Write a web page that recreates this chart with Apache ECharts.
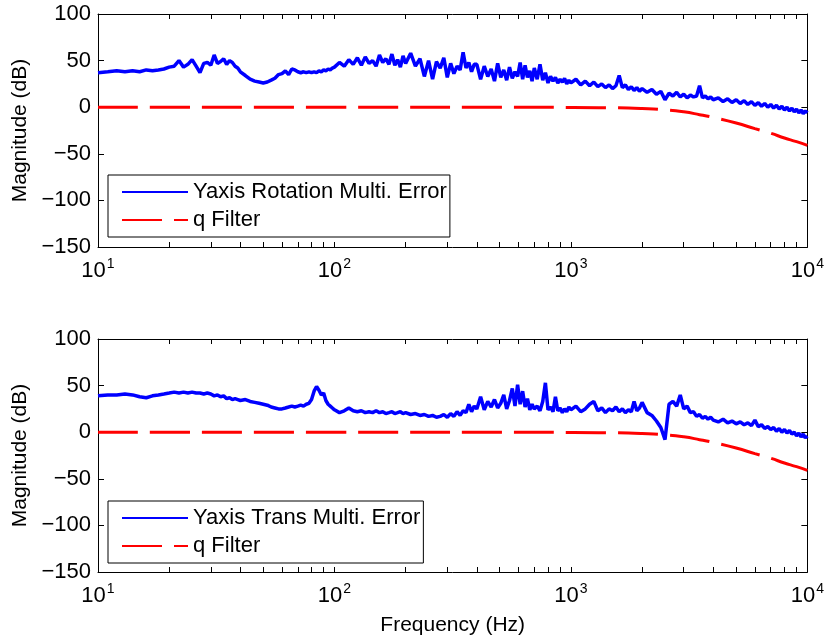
<!DOCTYPE html>
<html>
<head>
<meta charset="utf-8">
<script src="https://cdn.jsdelivr.net/npm/echarts@6.0.0/dist/echarts.min.js"></script>
<style>
  html, body { margin: 0; padding: 0; background: #fff; }
  #main { width: 827px; height: 642px; }
</style>
</head>
<body>
<div id="main"></div>
<script>
// frequency grid shared by both measured curves (Hz)
const freq = [
  10, 11, 12, 13, 14, 15, 16, 17, 18, 19,
  20, 21, 22, 23, 24, 25, 26, 27, 28, 29,
  30, 31, 32, 33, 34, 35, 36, 37, 38, 39,
  40, 42, 44, 46, 48, 50, 52, 54, 56, 58,
  60, 62, 64, 66, 68, 70, 72, 74, 76, 78,
  80, 82, 84, 86, 88, 90, 92, 94, 96, 98,
  100, 105, 110, 115, 120, 125, 130, 135, 140, 145, 150, 155, 160, 165, 170, 175, 180, 185, 190, 195,
  200, 210, 220, 230, 240, 250, 260, 270, 280, 290, 300, 310, 320, 330, 340, 350, 360, 370, 380, 390,
  400, 415, 430, 445, 460, 475, 490, 505, 520, 535, 550, 565, 580, 595, 610, 625, 640, 655, 670, 685,
  700, 720, 740, 760, 780, 800, 820, 840, 860, 880, 900, 920, 940, 960, 980,
  1000, 1050, 1100, 1150, 1200, 1250, 1300, 1350, 1400, 1450, 1500, 1550, 1600, 1650, 1700, 1750, 1800, 1850, 1900, 1950,
  2000, 2100, 2200, 2300, 2400, 2500, 2600, 2700, 2800, 2900, 3000, 3100, 3200, 3300, 3400, 3500, 3600, 3700, 3800, 3900,
  4000, 4200, 4400, 4600, 4800, 5000, 5200, 5400, 5600, 5800, 6000, 6200, 6400, 6600, 6800, 7000, 7200, 7400, 7600, 7800,
  8000, 8200, 8400, 8600, 8800, 9000, 9200, 9400, 9600, 9800, 10000
];

// Yaxis Rotation Multi. Error (dB)
const magRot = [
  37, 38, 39, 38, 39, 38, 40, 39, 40, 41,
  43, 44, 50, 43, 46, 51, 44, 37, 47, 48,
  45, 56, 47, 49, 52, 46, 50, 48, 44, 42,
  38, 34, 30, 28, 27, 26, 27, 29, 31, 35,
  36, 39, 35, 41, 40, 38, 37, 38, 37, 38,
  37, 38, 37, 39, 38, 40, 39, 41, 40, 42,
  43, 48, 44, 51, 46, 53, 45, 54, 47, 50, 44, 56, 48, 52, 46, 57, 45, 51, 43, 55,
  47, 58, 44, 52, 33, 50, 30, 49, 42, 53, 32, 47, 36, 44, 40, 59, 42, 48, 38, 46,
  46, 30, 44, 33, 41, 28, 47, 32, 40, 29, 43, 31, 38, 33, 48, 30, 45, 32, 39, 28,
  42, 30, 46, 29, 37, 26, 33, 28, 32, 26, 30, 27, 31, 25, 29,
  26, 30, 24, 28, 23, 27, 22, 25, 21, 24, 20, 23, 34, 21, 24, 19, 22, 18, 21, 17,
  20, 16, 19, 14, 17, 8, 15, 12, 16, 11, 14, 10, 13, 11, 12, 23, 10, 12, 9, 11,
  8, 10, 6, 9, 5, 8, 4, 7, 3, 6, 2, 5, 1, 4, 0, 3, -1, 2, -2, 1,
  -3, 0, -4, -1, -5, -2, -6, -3, -7, -4, -6
];

// Yaxis Trans Multi. Error (dB)
const magTrans = [
  39, 40, 40, 41, 40, 38, 37, 39, 40, 41,
  42, 43, 42, 43, 42, 43, 42, 42, 41, 42,
  41, 39, 40, 38, 39, 36, 37, 35, 36, 35,
  34, 35, 33, 32, 31, 30, 29, 27, 26, 25,
  25, 26, 27, 28, 27, 28, 29, 28, 30, 31,
  35, 44, 49, 45, 40, 42, 34, 30, 28, 26,
  24, 21, 23, 26, 23, 22, 23, 21, 22, 21, 23, 21, 22, 20, 21, 22, 20, 21, 22, 20,
  21, 19, 20, 18, 19, 17, 18, 16, 17, 19, 16, 20, 17, 22, 18, 23, 21, 30, 22, 28,
  25, 38, 24, 33, 27, 35, 26, 31, 40, 25, 34, 47, 28, 51, 30, 44, 27, 36, 24, 30,
  25, 28, 23, 33, 53, 24, 27, 22, 38, 23, 26, 21, 25, 22, 27,
  24, 28, 22, 25, 30, 33, 23, 26, 21, 25, 23, 27, 22, 25, 21, 24, 22, 33, 23, 26,
  32, 21, 18, 12, 5, -8, 30, 33, 28, 40, 25, 28, 21, 22, 17, 19, 15, 17, 14, 16,
  13, 11, 14, 10, 12, 9, 11, 8, 10, 7, 13, 6, 8, 4, 6, 3, 5, 1, 4, 0,
  3, -1, 2, -2, 0, -4, -1, -5, -2, -6, -4
];

// q filter response (dB)
const qFreq = [10, 100, 1000, 1500, 2000, 2500, 3000, 3500, 4000, 5000, 6000, 7000, 8000, 9000, 10000];
const qMag = [0, 0, -0.2, -0.6, -1.5, -2.8, -5, -8, -11, -17, -23, -28, -33, -37, -41];

// axis ticks
const decades = [10, 100, 1000, 10000];
const xTicks = [
  10, 20, 30, 40, 50, 60, 70, 80, 90,
  100, 200, 300, 400, 500, 600, 700, 800, 900,
  1000, 2000, 3000, 4000, 5000, 6000, 7000, 8000, 9000, 10000
];
const yMin = -150, yMax = 100, yStep = 50;

const FONT = 'Liberation Sans';
const chart = echarts.init(document.getElementById('main'));

function xAxes(grid, isBottomPanel) {
  const base = {
    type: 'log',
    logBase: 10,
    min: 10,
    max: 10000,
    gridIndex: grid,
    splitLine: { show: false },
    axisLine: { onZero: false, lineStyle: { color: '#000', width: 1 } },
    axisTick: { inside: true, length: 5, customValues: xTicks, lineStyle: { color: '#000' } },
    minorTick: { show: false }
  };
  const bottom = Object.assign({}, base, {
    position: 'bottom',
    axisLabel: {
      customValues: decades,
      margin: 10,
      color: '#000',
      fontFamily: FONT,
      formatter: v => '{b|10}{s|' + Math.round(Math.log10(v)) + '}',
      rich: {
        b: { fontSize: 22, fontFamily: FONT, color: '#000' },
        s: { fontSize: 14, fontFamily: FONT, color: '#000', padding: [0, 0, 13, 1] }
      }
    }
  });
  if (isBottomPanel) {
    bottom.name = 'Frequency (Hz)';
    bottom.nameLocation = 'middle';
    bottom.nameGap = 43;
    bottom.nameTextStyle = { fontSize: 21, fontFamily: FONT, color: '#000' };
  }
  const top = Object.assign({}, base, { position: 'top', axisLabel: { show: false } });
  return [bottom, top];
}

function yAxes(grid) {
  const base = {
    type: 'value',
    min: yMin,
    max: yMax,
    interval: yStep,
    gridIndex: grid,
    splitLine: { show: false },
    axisLine: { show: true, onZero: false, lineStyle: { color: '#000', width: 1 } },
    axisTick: { show: true, inside: true, length: 6, lineStyle: { color: '#000' } }
  };
  const left = Object.assign({}, base, {
    position: 'left',
    name: 'Magnitude (dB)',
    nameLocation: 'middle',
    nameGap: 67,
    nameTextStyle: { fontSize: 21, fontFamily: FONT, color: '#000' },
    axisLabel: {
      margin: 7,
      fontSize: 22,
      fontFamily: FONT,
      color: '#000',
      formatter: v => String(v).replace('-', '\u2212')
    }
  });
  const right = Object.assign({}, base, { position: 'right', axisLabel: { show: false } });
  return [left, right];
}

function panelSeries(grid, name, mag) {
  return [{
    name: name,
    type: 'line',
    xAxisIndex: grid * 2,
    yAxisIndex: grid * 2,
    data: freq.map((f, i) => [f, mag[i]]),
    showSymbol: false,
    symbol: 'none',
    z: 3,
    lineStyle: { color: '#0000ff', width: 3.5 },
    itemStyle: { color: '#0000ff' }
  }, {
    name: 'q Filter',
    type: 'line',
    xAxisIndex: grid * 2,
    yAxisIndex: grid * 2,
    data: qFreq.map((f, i) => [f, qMag[i]]),
    smooth: true,
    showSymbol: false,
    symbol: 'none',
    z: 2,
    lineStyle: { color: '#ff0000', width: 3, type: [40, 12] },
    itemStyle: { color: '#ff0000' }
  }];
}

function panelLegend(top, name) {
  return {
    top: top,
    left: 108,
    orient: 'vertical',
    data: [name, 'q Filter'],
    selectedMode: false,
    backgroundColor: '#fff',
    borderColor: '#000',
    borderWidth: 1,
    borderRadius: 0,
    padding: [6, 3, 6, 13],
    itemGap: 6,
    itemWidth: 66,
    itemHeight: 14,
    itemStyle: { opacity: 0 },
    textStyle: { fontSize: 22, fontFamily: FONT, color: '#000' }
  };
}

var option = {
  animation: false,
  backgroundColor: '#fff',
  grid: [
    { left: 98, right: 19, top: 14, height: 233 },
    { left: 98, right: 19, top: 339, height: 233 }
  ],
  xAxis: xAxes(0, false).concat(xAxes(1, true)),
  yAxis: yAxes(0).concat(yAxes(1)),
  legend: [
    panelLegend(175, 'Yaxis Rotation Multi. Error'),
    panelLegend(501, 'Yaxis Trans Multi. Error')
  ],
  series: panelSeries(0, 'Yaxis Rotation Multi. Error', magRot)
    .concat(panelSeries(1, 'Yaxis Trans Multi. Error', magTrans))
};

chart.setOption(option);
</script>
</body>
</html>
